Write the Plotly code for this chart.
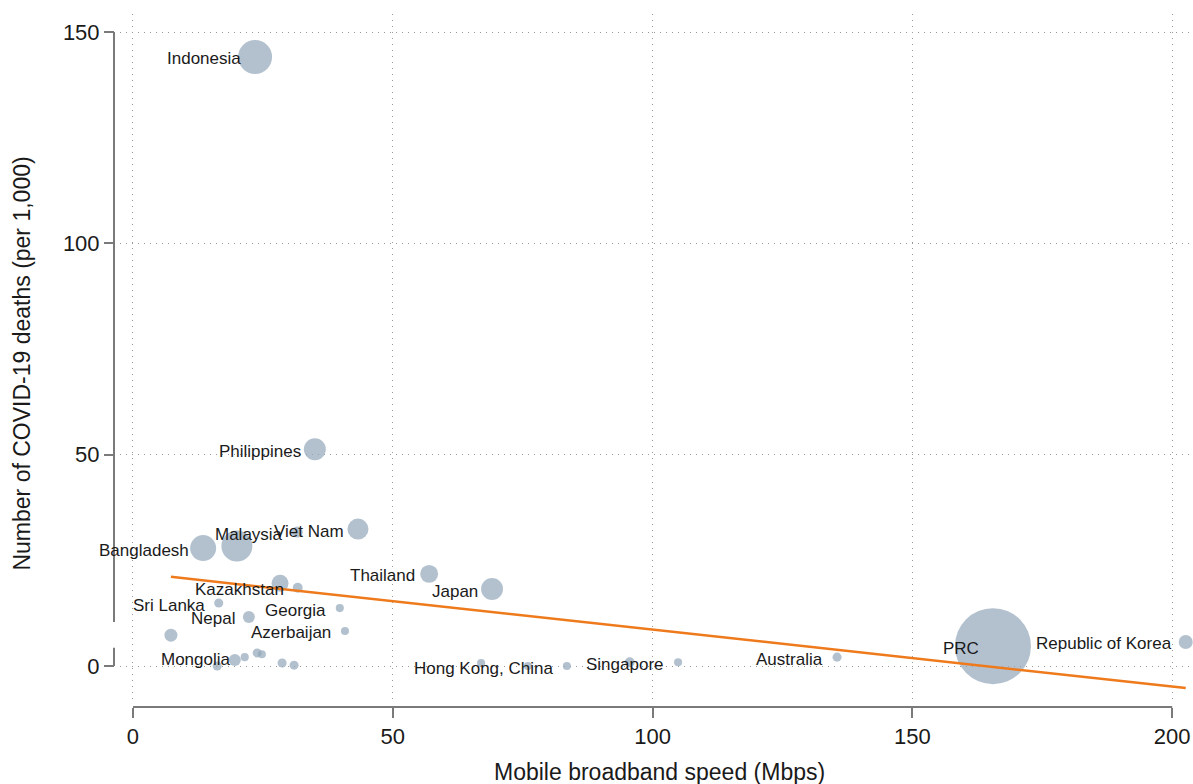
import plotly.graph_objects as go

# Données
countries = [
    "Indonesia", "Philippines", "Viet Nam", "Malaysia", "", "Bangladesh",
    "Thailand", "Japan", "", "Kazakhstan", "Sri Lanka", "Georgia", "Nepal",
    "Azerbaijan", "", "", "", "Mongolia", "", "", "", "", "", "",
    "Hong Kong, China", "", "Singapore", "Australia", "PRC", "Republic of Korea",
]
speed_mbps = [
    23.5, 35.0, 43.3, 31.6, 20.0, 13.5,
    57.0, 69.1, 28.3, 31.7, 16.5, 39.8, 22.3,
    40.8, 7.3, 16.2, 19.6, 21.5, 23.9, 24.8, 28.7, 31.0, 67.0, 76.0,
    83.5, 95.6, 104.9, 135.5, 165.5, 202.6,
]
deaths_per_1000 = [
    144.1, 51.3, 32.4, 31.7, 28.4, 27.9,
    21.8, 18.2, 19.6, 18.5, 14.9, 13.7, 11.6,
    8.3, 7.3, 0.0, 1.4, 2.1, 3.1, 2.8, 0.7, 0.2, 0.7, 0.0,
    0.0, 0.9, 0.9, 2.1, 4.7, 5.7,
]
# taille des bulles (population, millions) estimée d'après l'aire des cercles
population_m = [
    282, 118, 108, 30, 235, 165,
    79, 118, 70, 24, 20, 16, 35,
    16, 41, 20, 35, 16, 20, 16, 20, 20, 16, 16,
    16, 24, 16, 20, 1410, 48,
]

# Droite d'ajustement
fit_intercept = 22.08
fit_slope = -0.1347

x_ticks = [0, 50, 100, 150, 200]
y_ticks = [0, 50, 100, 150]

font_family = "Liberation Sans, Arial, Helvetica, sans-serif"
axis_color = "#7a7a7a"
grid_color = "#9a9a9a"

fig = go.Figure()

# Bulles
fig.add_trace(go.Scatter(
    x=speed_mbps, y=deaths_per_1000, mode="markers",
    marker=dict(size=population_m, sizemode="area",
                sizeref=2.0 * max(population_m) / (76 ** 2),
                color="#93A6BA", line=dict(width=0)),
    hoverinfo="skip", showlegend=False,
))

# Droite d'ajustement
x_fit = [min(speed_mbps), max(speed_mbps)]
y_fit = [fit_intercept + fit_slope * v for v in x_fit]
fig.add_trace(go.Scatter(
    x=x_fit, y=y_fit, mode="lines",
    line=dict(color="#EE7A1C", width=2.5),
    hoverinfo="skip", showlegend=False,
))

# Étiquettes des pays (à gauche du centre de la bulle)
for name, xv, yv in zip(countries, speed_mbps, deaths_per_1000):
    if name:
        fig.add_annotation(x=xv, y=yv, text=name, showarrow=False,
                           xanchor="right", yanchor="middle", xshift=-12, yshift=-2,
                           font=dict(size=17, color="#1a1a1a", family=font_family))

# Lignes des axes (style Stata, décalées)
fig.add_shape(type="line", xref="x", yref="paper", x0=0, x1=200, y0=0, y1=0,
              line=dict(color=axis_color, width=2))
fig.add_shape(type="line", xref="paper", yref="y", x0=0, x1=0, y0=150, y1=10.4,
              line=dict(color=axis_color, width=2))
fig.add_shape(type="line", xref="paper", yref="y", x0=0, x1=0, y0=4.3, y1=0,
              line=dict(color=axis_color, width=2))

# Titres des axes
fig.add_annotation(xref="paper", yref="paper", x=0.506, y=-0.094,
                   text="Mobile broadband speed (Mbps)", showarrow=False,
                   xanchor="center", yanchor="middle",
                   font=dict(size=23, color="#1a1a1a", family=font_family))
fig.add_annotation(xref="paper", yref="paper", x=-0.085, y=0.496,
                   text="Number of COVID-19 deaths (per 1,000)", showarrow=False,
                   textangle=-90, xanchor="center", yanchor="middle",
                   font=dict(size=23, color="#1a1a1a", family=font_family))

fig.update_layout(
    width=1193, height=784,
    margin=dict(l=114, r=0, t=14, b=77),
    paper_bgcolor="white", plot_bgcolor="white",
    font=dict(family=font_family, color="#1a1a1a"),
    xaxis=dict(domain=[0.00556, 1], range=[-2.5, 204.0], anchor="free", position=0,
               tickvals=x_ticks, ticks="outside", ticklen=10, tickwidth=2,
               tickcolor=axis_color, tickfont=dict(size=22),
               showline=False, zeroline=False,
               showgrid=True, gridcolor=grid_color, gridwidth=1, griddash="1px,5px"),
    yaxis=dict(domain=[0.0101, 1], range=[-8.04, 154.26], anchor="free", position=0,
               tickvals=y_ticks, ticks="outside", ticklen=10, tickwidth=2,
               tickcolor=axis_color, tickfont=dict(size=22),
               showline=False, zeroline=False,
               showgrid=True, gridcolor=grid_color, gridwidth=1, griddash="1px,5px"),
)

# page sans marge pour que le graphique commence au coin
fig.write_html("out.html", config={"displayModeBar": False},
               post_script="document.body.style.margin='0';")
